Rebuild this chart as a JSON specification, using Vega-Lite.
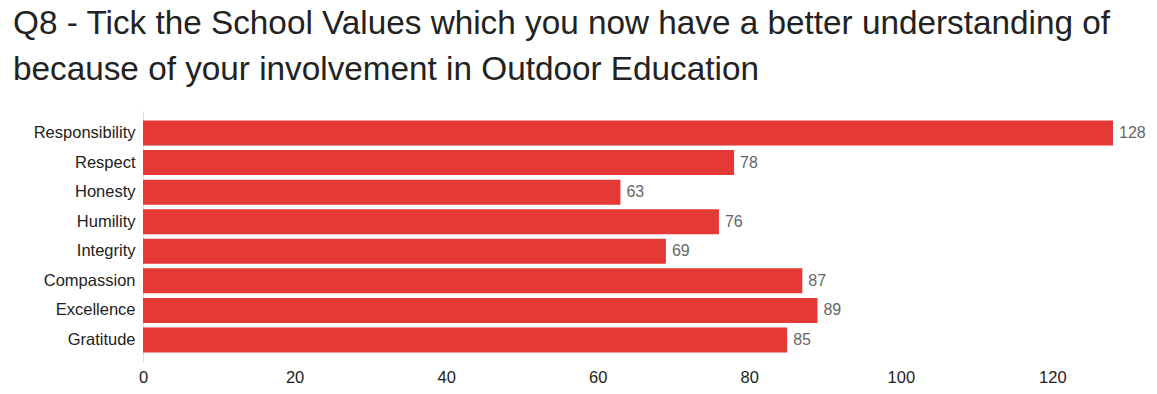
{
  "$schema": "https://vega.github.io/schema/vega-lite/v6.json",
  "width": 970,
  "height": 251,
  "autosize": "none",
  "padding": {"left": 143, "top": 111, "right": 44, "bottom": 32},
  "background": "white",
  "title": {
    "text": ["Q8 - Tick the School Values which you now have a better understanding of", "because of your involvement in Outdoor Education"],
    "anchor": "start",
    "frame": "group",
    "dx": -130,
    "offset": 24,
    "fontSize": 33.3,
    "font": "Liberation Sans",
    "fontWeight": "normal",
    "color": "#222222",
    "lineHeight": 46
  },
  "data": {
    "values": [
      {"value": "Responsibility", "count": 128},
      {"value": "Respect", "count": 78},
      {"value": "Honesty", "count": 63},
      {"value": "Humility", "count": 76},
      {"value": "Integrity", "count": 69},
      {"value": "Compassion", "count": 87},
      {"value": "Excellence", "count": 89},
      {"value": "Gratitude", "count": 85}
    ]
  },
  "encoding": {
    "y": {
      "field": "value",
      "type": "nominal",
      "sort": null,
      "title": null,
      "scale": {"paddingInner": 0.155, "paddingOuter": 0.32},
      "axis": {
        "domain": true,
        "domainColor": "#dddddd",
        "ticks": false,
        "grid": false,
        "labelPadding": 8,
        "labelFont": "Liberation Sans",
        "labelFontSize": 16.5,
        "labelColor": "#222222"
      }
    },
    "x": {
      "field": "count",
      "type": "quantitative",
      "title": null,
      "scale": {"domain": [0, 128], "nice": false},
      "axis": {
        "values": [0, 20, 40, 60, 80, 100, 120],
        "domain": false,
        "ticks": false,
        "grid": false,
        "labelPadding": 7,
        "labelFont": "Liberation Sans",
        "labelFontSize": 16.5,
        "labelColor": "#222222",
        "labelFlush": false
      }
    }
  },
  "layer": [
    {"mark": {"type": "bar", "color": "#e53935"}},
    {
      "mark": {"type": "text", "align": "left", "dx": 6, "font": "Liberation Sans", "fontSize": 16, "color": "#666666"},
      "encoding": {"text": {"field": "count", "type": "quantitative"}}
    }
  ],
  "config": {"view": {"stroke": null}}
}
